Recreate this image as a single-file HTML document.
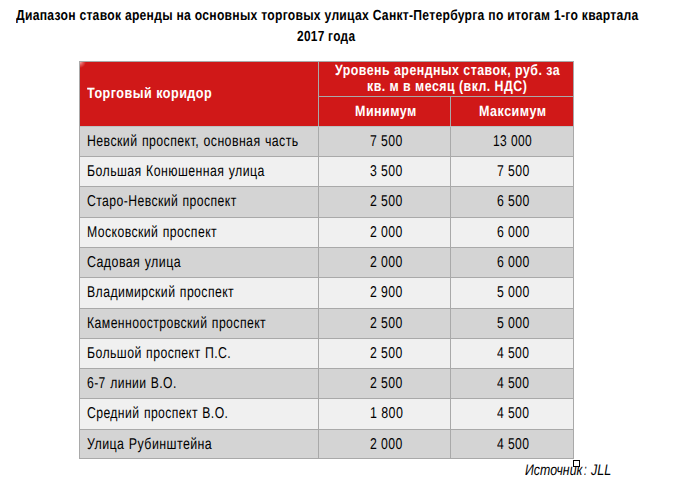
<!DOCTYPE html>
<html lang="ru"><head><meta charset="utf-8"><title>JLL</title>
<style>html,body{margin:0;padding:0;background:#fff;}body{text-rendering:geometricPrecision;font-family:"Liberation Sans",sans-serif;}div{position:absolute;box-sizing:border-box;}.t{white-space:nowrap;transform-origin:0 0;}body{width:676px;height:485px;position:relative;overflow:hidden;color:#000;}</style></head><body>
<div style="background:#a9a9a9;left:79px;top:61px;width:495px;height:398px"></div>
<div style="left:80px;top:62px;width:238px;height:64px;background:#d01818"></div>
<div style="left:319px;top:62px;width:254px;height:34px;background:#d01818"></div>
<div style="left:319px;top:97px;width:131px;height:29px;background:#d01818"></div>
<div style="left:451px;top:97px;width:122px;height:29px;background:#d01818"></div>
<div style="background:#d4d4d4;left:80px;top:127px;width:238px;height:29px"></div>
<div style="background:#d4d4d4;left:319px;top:127px;width:131px;height:29px"></div>
<div style="background:#d4d4d4;left:451px;top:127px;width:122px;height:29px"></div>
<div style="background:#f0f0f0;left:80px;top:157px;width:238px;height:29px"></div>
<div style="background:#f0f0f0;left:319px;top:157px;width:131px;height:29px"></div>
<div style="background:#f0f0f0;left:451px;top:157px;width:122px;height:29px"></div>
<div style="background:#d4d4d4;left:80px;top:187px;width:238px;height:30px"></div>
<div style="background:#d4d4d4;left:319px;top:187px;width:131px;height:30px"></div>
<div style="background:#d4d4d4;left:451px;top:187px;width:122px;height:30px"></div>
<div style="background:#f0f0f0;left:80px;top:218px;width:238px;height:29px"></div>
<div style="background:#f0f0f0;left:319px;top:218px;width:131px;height:29px"></div>
<div style="background:#f0f0f0;left:451px;top:218px;width:122px;height:29px"></div>
<div style="background:#d4d4d4;left:80px;top:248px;width:238px;height:29px"></div>
<div style="background:#d4d4d4;left:319px;top:248px;width:131px;height:29px"></div>
<div style="background:#d4d4d4;left:451px;top:248px;width:122px;height:29px"></div>
<div style="background:#f0f0f0;left:80px;top:278px;width:238px;height:30px"></div>
<div style="background:#f0f0f0;left:319px;top:278px;width:131px;height:30px"></div>
<div style="background:#f0f0f0;left:451px;top:278px;width:122px;height:30px"></div>
<div style="background:#d4d4d4;left:80px;top:309px;width:238px;height:29px"></div>
<div style="background:#d4d4d4;left:319px;top:309px;width:131px;height:29px"></div>
<div style="background:#d4d4d4;left:451px;top:309px;width:122px;height:29px"></div>
<div style="background:#f0f0f0;left:80px;top:339px;width:238px;height:29px"></div>
<div style="background:#f0f0f0;left:319px;top:339px;width:131px;height:29px"></div>
<div style="background:#f0f0f0;left:451px;top:339px;width:122px;height:29px"></div>
<div style="background:#d4d4d4;left:80px;top:369px;width:238px;height:29px"></div>
<div style="background:#d4d4d4;left:319px;top:369px;width:131px;height:29px"></div>
<div style="background:#d4d4d4;left:451px;top:369px;width:122px;height:29px"></div>
<div style="background:#f0f0f0;left:80px;top:399px;width:238px;height:30px"></div>
<div style="background:#f0f0f0;left:319px;top:399px;width:131px;height:30px"></div>
<div style="background:#f0f0f0;left:451px;top:399px;width:122px;height:30px"></div>
<div style="background:#d4d4d4;left:80px;top:430px;width:238px;height:28px"></div>
<div style="background:#d4d4d4;left:319px;top:430px;width:131px;height:28px"></div>
<div style="background:#d4d4d4;left:451px;top:430px;width:122px;height:28px"></div>
<div style="left:80px;top:126px;width:493px;height:1px;background:#bcc2c2"></div>
<div style="left:80px;top:62px;width:7px;height:7px;background:radial-gradient(circle at 0 0,rgba(255,215,215,0.75),rgba(255,200,200,0.35) 3px,rgba(255,255,255,0) 6px)"></div>
<div class="t" style="left:15.50px;top:3.41px;line-height:21px;font-weight:bold;font-size:13px;letter-spacing:0.3px;word-spacing:0.0px;color:#000;transform:scale(0.9325,1.13)">Диапазон ставок аренды на основных торговых улицах Санкт-Петербурга по итогам 1-го квартала</div>
<div class="t" style="left:296.84px;top:23.72px;line-height:21px;font-weight:bold;font-size:13px;letter-spacing:0.3px;word-spacing:0.0px;color:#000;transform:scale(0.9143,1.13)">2017 года</div>
<div class="t" style="left:87.36px;top:80.95px;line-height:21px;font-weight:bold;font-size:13px;letter-spacing:0.5px;color:#fff;transform:scale(0.9688,1.15)">Торговый коридор</div>
<div class="t" style="left:334.70px;top:57.55px;line-height:21px;font-weight:bold;font-size:13px;letter-spacing:0.5px;color:#fff;transform:scale(0.9521,1.15)">Уровень арендных ставок, руб. за</div>
<div class="t" style="left:367.25px;top:73.55px;line-height:21px;font-weight:bold;font-size:13px;letter-spacing:0.5px;color:#fff;transform:scale(0.9516,1.15)">кв. м в месяц (вкл. НДС)</div>
<div class="t" style="left:355.28px;top:98.65px;line-height:21px;font-weight:bold;font-size:13px;letter-spacing:0.5px;color:#fff;transform:scale(0.9622,1.15)">Минимум</div>
<div class="t" style="left:479.08px;top:98.65px;line-height:21px;font-weight:bold;font-size:13px;letter-spacing:0.5px;color:#fff;transform:scale(0.9653,1.15)">Максимум</div>
<div class="t" style="left:87.45px;top:127.66px;line-height:20px;font-size:12px;letter-spacing:0.4px;word-spacing:0.6px;color:#000;transform:scale(1.0293,1.31)">Невский проспект, основная часть</div>
<div class="t" style="left:370.09px;top:127.66px;line-height:20px;font-size:12px;letter-spacing:0.4px;word-spacing:0px;color:#000;transform:scale(1.0211,1.31)">7 500</div>
<div class="t" style="left:493.45px;top:127.66px;line-height:20px;font-size:12px;letter-spacing:0.4px;word-spacing:0px;color:#000;transform:scale(1.0013,1.31)">13 000</div>
<div class="t" style="left:87.45px;top:157.66px;line-height:20px;font-size:12px;letter-spacing:0.4px;word-spacing:0.6px;color:#000;transform:scale(1.0287,1.31)">Большая Конюшенная улица</div>
<div class="t" style="left:370.09px;top:157.66px;line-height:20px;font-size:12px;letter-spacing:0.4px;word-spacing:0px;color:#000;transform:scale(1.0211,1.31)">3 500</div>
<div class="t" style="left:496.89px;top:157.66px;line-height:20px;font-size:12px;letter-spacing:0.4px;word-spacing:0px;color:#000;transform:scale(1.0211,1.31)">7 500</div>
<div class="t" style="left:87.45px;top:187.66px;line-height:20px;font-size:12px;letter-spacing:0.4px;word-spacing:0.6px;color:#000;transform:scale(1.0185,1.31)">Старо-Невский проспект</div>
<div class="t" style="left:370.09px;top:187.66px;line-height:20px;font-size:12px;letter-spacing:0.4px;word-spacing:0px;color:#000;transform:scale(1.0211,1.31)">2 500</div>
<div class="t" style="left:496.89px;top:187.66px;line-height:20px;font-size:12px;letter-spacing:0.4px;word-spacing:0px;color:#000;transform:scale(1.0211,1.31)">6 500</div>
<div class="t" style="left:87.45px;top:218.66px;line-height:20px;font-size:12px;letter-spacing:0.4px;word-spacing:0.6px;color:#000;transform:scale(1.0229,1.31)">Московский проспект</div>
<div class="t" style="left:370.09px;top:218.66px;line-height:20px;font-size:12px;letter-spacing:0.4px;word-spacing:0px;color:#000;transform:scale(1.0211,1.31)">2 000</div>
<div class="t" style="left:496.89px;top:218.66px;line-height:20px;font-size:12px;letter-spacing:0.4px;word-spacing:0px;color:#000;transform:scale(1.0211,1.31)">6 000</div>
<div class="t" style="left:87.45px;top:248.66px;line-height:20px;font-size:12px;letter-spacing:0.4px;word-spacing:0.6px;color:#000;transform:scale(1.0366,1.31)">Садовая улица</div>
<div class="t" style="left:370.09px;top:248.66px;line-height:20px;font-size:12px;letter-spacing:0.4px;word-spacing:0px;color:#000;transform:scale(1.0211,1.31)">2 000</div>
<div class="t" style="left:496.89px;top:248.66px;line-height:20px;font-size:12px;letter-spacing:0.4px;word-spacing:0px;color:#000;transform:scale(1.0211,1.31)">6 000</div>
<div class="t" style="left:87.45px;top:278.66px;line-height:20px;font-size:12px;letter-spacing:0.4px;word-spacing:0.6px;color:#000;transform:scale(1.0223,1.31)">Владимирский проспект</div>
<div class="t" style="left:370.09px;top:278.66px;line-height:20px;font-size:12px;letter-spacing:0.4px;word-spacing:0px;color:#000;transform:scale(1.0211,1.31)">2 900</div>
<div class="t" style="left:496.89px;top:278.66px;line-height:20px;font-size:12px;letter-spacing:0.4px;word-spacing:0px;color:#000;transform:scale(1.0211,1.31)">5 000</div>
<div class="t" style="left:87.45px;top:309.66px;line-height:20px;font-size:12px;letter-spacing:0.4px;word-spacing:0.6px;color:#000;transform:scale(1.0226,1.31)">Каменноостровский проспект</div>
<div class="t" style="left:370.09px;top:309.66px;line-height:20px;font-size:12px;letter-spacing:0.4px;word-spacing:0px;color:#000;transform:scale(1.0211,1.31)">2 500</div>
<div class="t" style="left:496.89px;top:309.66px;line-height:20px;font-size:12px;letter-spacing:0.4px;word-spacing:0px;color:#000;transform:scale(1.0211,1.31)">5 000</div>
<div class="t" style="left:87.45px;top:339.66px;line-height:20px;font-size:12px;letter-spacing:0.4px;word-spacing:0.6px;color:#000;transform:scale(1.0251,1.31)">Большой проспект П.С.</div>
<div class="t" style="left:370.09px;top:339.66px;line-height:20px;font-size:12px;letter-spacing:0.4px;word-spacing:0px;color:#000;transform:scale(1.0211,1.31)">2 500</div>
<div class="t" style="left:497.15px;top:339.66px;line-height:20px;font-size:12px;letter-spacing:0.4px;word-spacing:0px;color:#000;transform:scale(1.0129,1.31)">4 500</div>
<div class="t" style="left:87.45px;top:369.66px;line-height:20px;font-size:12px;letter-spacing:0.4px;word-spacing:0.6px;color:#000;transform:scale(1.0132,1.31)">6-7 линии В.О.</div>
<div class="t" style="left:370.09px;top:369.66px;line-height:20px;font-size:12px;letter-spacing:0.4px;word-spacing:0px;color:#000;transform:scale(1.0211,1.31)">2 500</div>
<div class="t" style="left:497.15px;top:369.66px;line-height:20px;font-size:12px;letter-spacing:0.4px;word-spacing:0px;color:#000;transform:scale(1.0129,1.31)">4 500</div>
<div class="t" style="left:87.45px;top:399.66px;line-height:20px;font-size:12px;letter-spacing:0.4px;word-spacing:0.6px;color:#000;transform:scale(1.0171,1.31)">Средний проспект В.О.</div>
<div class="t" style="left:369.56px;top:399.66px;line-height:20px;font-size:12px;letter-spacing:0.4px;word-spacing:0px;color:#000;transform:scale(1.0380,1.31)">1 800</div>
<div class="t" style="left:497.15px;top:399.66px;line-height:20px;font-size:12px;letter-spacing:0.4px;word-spacing:0px;color:#000;transform:scale(1.0129,1.31)">4 500</div>
<div class="t" style="left:87.45px;top:430.66px;line-height:20px;font-size:12px;letter-spacing:0.4px;word-spacing:0.6px;color:#000;transform:scale(1.0361,1.31)">Улица Рубинштейна</div>
<div class="t" style="left:370.09px;top:430.66px;line-height:20px;font-size:12px;letter-spacing:0.4px;word-spacing:0px;color:#000;transform:scale(1.0211,1.31)">2 000</div>
<div class="t" style="left:497.15px;top:430.66px;line-height:20px;font-size:12px;letter-spacing:0.4px;word-spacing:0px;color:#000;transform:scale(1.0129,1.31)">4 500</div>
<div class="t" style="left:524.99px;top:459.32px;line-height:23px;font-style:italic;font-size:15px;letter-spacing:0px;color:#000;transform:scale(0.8230,1.03)">Источник</div>
<div class="t" style="left:584.08px;top:459.32px;line-height:23px;font-style:italic;font-size:15px;letter-spacing:0px;color:#000;transform:scale(0.6333,1.03)">:</div>
<div class="t" style="left:590.60px;top:459.32px;line-height:23px;font-style:italic;font-size:15px;letter-spacing:0px;color:#000;transform:scale(0.8304,1.03)">JLL</div>
<div style="left:573px;top:460px;width:7px;height:7px;border:1px solid #000;background:#fff"></div>
</body></html>
